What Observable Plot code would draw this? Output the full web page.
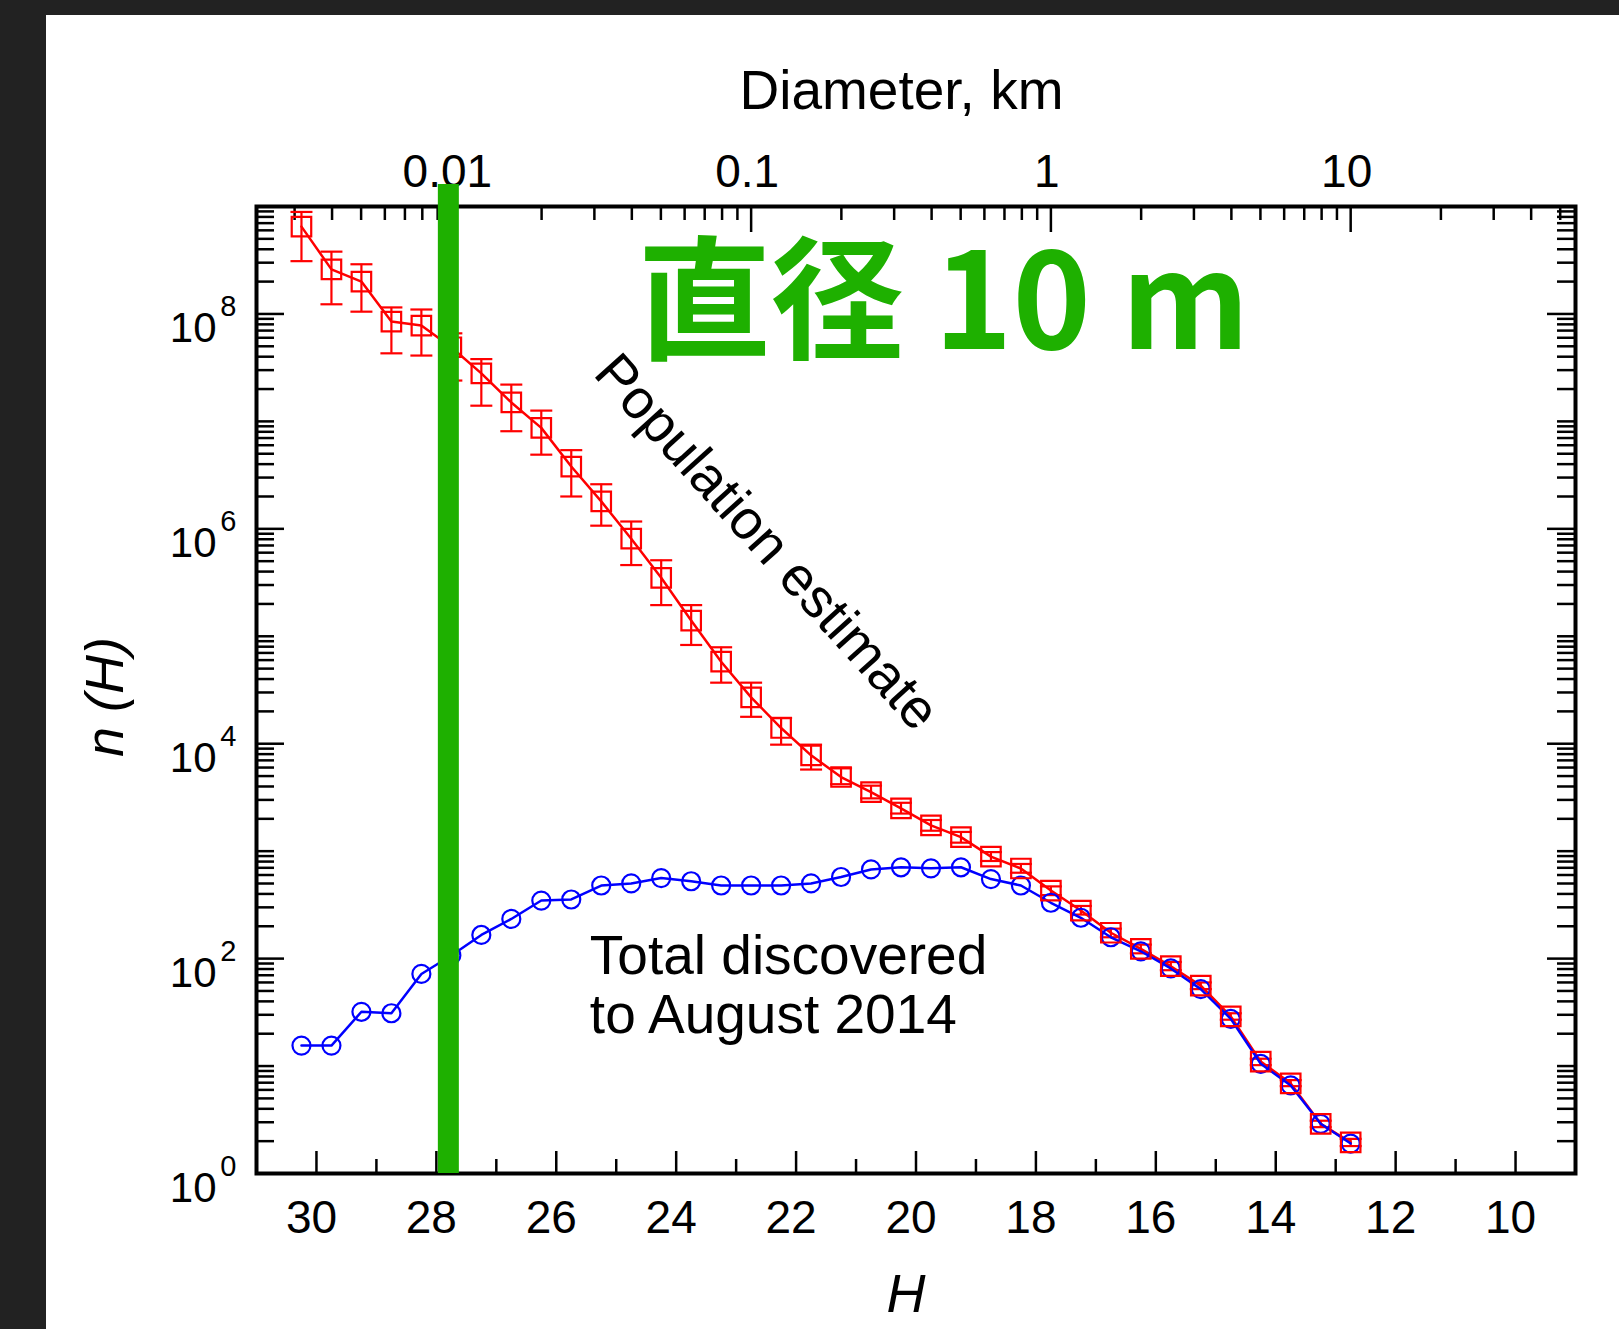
<!DOCTYPE html>
<html><head><meta charset="utf-8">
<script src="https://cdn.jsdelivr.net/npm/d3@7"></script>
<script src="https://cdn.jsdelivr.net/npm/@observablehq/plot@0.6"></script>
<style>
html,body{margin:0;padding:0;background:#222;width:1619px;height:1329px;overflow:hidden}
#panel{position:absolute;left:46px;top:15px;width:1573px;height:1314px;background:#fff}
</style></head><body><div id="panel"></div>
<script>
// ---- data ----
const H = [30.25, 29.75, 29.25, 28.75, 28.25, 27.75, 27.25, 26.75, 26.25, 25.75, 25.25, 24.75,
  24.25, 23.75, 23.25, 22.75, 22.25, 21.75, 21.25, 20.75, 20.25, 19.75, 19.25, 18.75,
  18.25, 17.75, 17.25, 16.75, 16.25, 15.75, 15.25, 14.75, 14.25, 13.75, 13.25, 12.75];
const populationEstimate = [6.5e8, 2.6e8, 2.0e8, 8.5e7, 7.8e7, 4.9e7, 2.8e7, 1.5e7, 8.7e6, 3.8e6, 1.8e6, 8.1e5,
  3.5e5, 1.4e5, 5.8e4, 2.7e4, 1.4e4, 7800, 4900, 3550, 2500, 1740, 1350, 890,
  690, 430, 280, 174, 123, 85, 56, 29, 11, 6.9, 2.9, 1.95];
const populationLow = [3.1e8, 1.23e8, 1.05e8, 4.3e7, 4.1e7, 2.4e7, 1.4e7, 8.1e6, 4.9e6, 2.0e6, 1.07e6, 4.6e5,
  1.95e5, 8.3e4, 3.7e4, 1.78e4, 9800, 5750, 4200, 3100, 2240, 1550, 1200, 810,
  630, 390, 257, 158, 112, 78, 52, 27, 10.2, 6.5, 2.7, 1.8];
const populationHigh = [8.9e8, 3.8e8, 2.9e8, 1.15e8, 1.1e8, 6.6e7, 3.8e7, 2.2e7, 1.26e7, 5.4e6, 2.6e6, 1.17e6,
  5.1e5, 1.95e5, 7.9e4, 3.7e4, 1.74e4, 9800, 5900, 4070, 2820, 1950, 1510, 980,
  760, 470, 309, 190, 135, 93, 60, 31, 11.7, 7.4, 3.1, 2.1];
const totalDiscovered = [15.5, 15.5, 32, 31, 72, 107, 166, 234, 347, 355, 479, 501,
  562, 525, 479, 479, 479, 501, 575, 676, 708, 692, 708, 550,
  479, 331, 240, 158, 117, 81, 52, 27.5, 10.5, 6.6, 2.9, 1.9];

const hLabelTicks = [30, 28, 26, 24, 22, 20, 18, 16, 14, 12, 10];
const hMinorTicks = [29, 27, 25, 23, 21, 19, 17, 15, 13, 11];
const diameterMajor = [0.01, 0.1, 1, 10];
const diameterLabels = ["0.01", "0.1", "1", "10"];
const diameterMinor = [0.003, 0.004, 0.005, 0.006, 0.007, 0.008, 0.009,
  0.02, 0.03, 0.04, 0.05, 0.06, 0.07, 0.08, 0.09,
  0.2, 0.3, 0.4, 0.5, 0.6, 0.7, 0.8, 0.9,
  2, 3, 4, 5, 6, 7, 8, 9, 20, 30, 40, 50];
const yLabelTicks = [1, 1e2, 1e4, 1e6, 1e8];
const yExponents = ["0", "2", "4", "6", "8"];
const H_1km = 17.75;          // H of a 1 km body on the top axis
const tenMeterH = 27.8;       // green marker "直径 10 m"

// ---- derived tables ----
const yMinorTicks = [];
for (let k = 0; k <= 8; k++) {
  if (k % 2 === 1) yMinorTicks.push(10 ** k);
  for (let m = 2; m <= 9; m++) yMinorTicks.push(m * 10 ** k);
}
const toH = (d) => H_1km - 5 * Math.log10(d);
const pop = H.map((h, i) => ({H: h, n: populationEstimate[i], lo: populationLow[i], hi: populationHigh[i]}));
const disc = H.map((h, i) => ({H: h, n: totalDiscovered[i]}));

const W = 1573, HT = 1314, mL = 210, mR = 44, mT = 191, mB = 156;
const fW = W - mL - mR, fH = HT - mT - mB;
const RED = "#ff0000", BLUE = "#0000ff", GREEN = "#1eb000";
const cap = {draw(ctx) { ctx.moveTo(-11, 0); ctx.lineTo(11, 0); }};
const tk = {stroke: "#000", strokeWidth: 2.5};

const chart = Plot.plot({
  width: W, height: HT,
  marginLeft: mL, marginRight: mR, marginTop: mT, marginBottom: mB,
  x: {domain: [31, 9], axis: null},
  y: {type: "log", domain: [1, 1e9], axis: null},
  style: {fontFamily: "'Liberation Sans', Arial, sans-serif", background: "transparent", color: "#000", overflow: "visible"},
  marks: [
    // ticks (inward)
    Plot.tickX(hLabelTicks, {x: d => d, insetTop: fH - 22, ...tk}),
    Plot.tickX(hMinorTicks, {x: d => d, insetTop: fH - 14, ...tk}),
    Plot.tickX(diameterMajor, {x: d => toH(d), insetBottom: fH - 26, ...tk}),
    Plot.tickX(diameterMinor, {x: d => toH(d), insetBottom: fH - 14, ...tk}),
    Plot.tickY(yLabelTicks, {y: d => d, insetRight: fW - 28, ...tk}),
    Plot.tickY(yMinorTicks, {y: d => d, insetRight: fW - 18, ...tk}),
    Plot.tickY(yLabelTicks, {y: d => d, insetLeft: fW - 28, ...tk}),
    Plot.tickY(yMinorTicks, {y: d => d, insetLeft: fW - 18, ...tk}),
    // population estimate
    Plot.line(pop, {x: "H", y: "n", stroke: RED, strokeWidth: 2.5}),
    Plot.ruleX(pop, {x: "H", y1: "lo", y2: "hi", stroke: RED, strokeWidth: 2.2}),
    Plot.dot(pop, {x: "H", y: "lo", symbol: cap, fill: "none", stroke: RED, strokeWidth: 2.2}),
    Plot.dot(pop, {x: "H", y: "hi", symbol: cap, fill: "none", stroke: RED, strokeWidth: 2.2}),
    // discovered
    Plot.line(disc, {x: "H", y: "n", stroke: BLUE, strokeWidth: 2.5}),
    Plot.dot(disc, {x: "H", y: "n", symbol: "circle", r: 9, fill: "none", stroke: BLUE, strokeWidth: 2.2}),
    Plot.dot(pop, {x: "H", y: "n", symbol: "square", r: 11, fill: "none", stroke: RED, strokeWidth: 2.2}),
    Plot.frame({stroke: "#000", strokeWidth: 4}),
    // tick labels
    Plot.text(hLabelTicks, {x: d => d, text: d => String(d), frameAnchor: "bottom", dx: -5, dy: 27, lineAnchor: "top", fontSize: 46}),
    Plot.text(diameterMajor, {x: d => toH(d), text: (d, i) => diameterLabels[i], frameAnchor: "top", dx: -4, dy: -20, lineAnchor: "bottom", fontSize: 46}),
    Plot.text(yLabelTicks, {y: d => d, text: () => "10", frameAnchor: "left", textAnchor: "end", dx: -40, dy: 28, lineAnchor: "bottom", fontSize: 42}),
    Plot.text(yLabelTicks, {y: d => d, text: (d, i) => yExponents[i], frameAnchor: "left", textAnchor: "end", dx: -20, dy: 2, lineAnchor: "bottom", fontSize: 29}),
    // titles
    Plot.text(["Diameter, km"], {text: d => d, frameAnchor: "top", dx: -14.5, dy: -98, lineAnchor: "bottom", fontSize: 55}),
    Plot.text(["H"], {text: d => d, frameAnchor: "bottom", dx: -10, dy: 138.7, lineAnchor: "bottom", fontSize: 54, fontStyle: "italic"}),
    Plot.text(["n (H)"], {text: d => d, frameAnchor: "left", textAnchor: "middle", lineAnchor: "middle", dx: -150.3, dy: 7, rotate: -90, fontSize: 54, fontStyle: "italic"}),
    // annotations
    Plot.text([{H: 22.49, n: 7.5e5, t: "Population estimate"}], {x: "H", y: "n", text: "t", textAnchor: "middle", lineAnchor: "middle", rotate: 48, fontSize: 55}),
    Plot.text([{H: 25.44, n: 20.3, t: "Total discovered\nto August 2014"}], {x: "H", y: "n", text: "t", textAnchor: "start", lineAnchor: "bottom", lineHeight: 1.07, fontSize: 55}),
    // green 10 m marker
    Plot.ruleX([tenMeterH], {x: d => d, stroke: GREEN, strokeWidth: 21, insetTop: -22}),
    Plot.text([{H: 24.64, n: 4.67e7, t: "直径 10 m"}], {x: "H", y: "n", text: "t", textAnchor: "start", lineAnchor: "bottom", fontSize: 133, fontWeight: "bold", fontFamily: "'Noto Sans CJK JP', sans-serif", fill: GREEN})
  ]
});
document.getElementById("panel").append(chart);
</script></body></html>
